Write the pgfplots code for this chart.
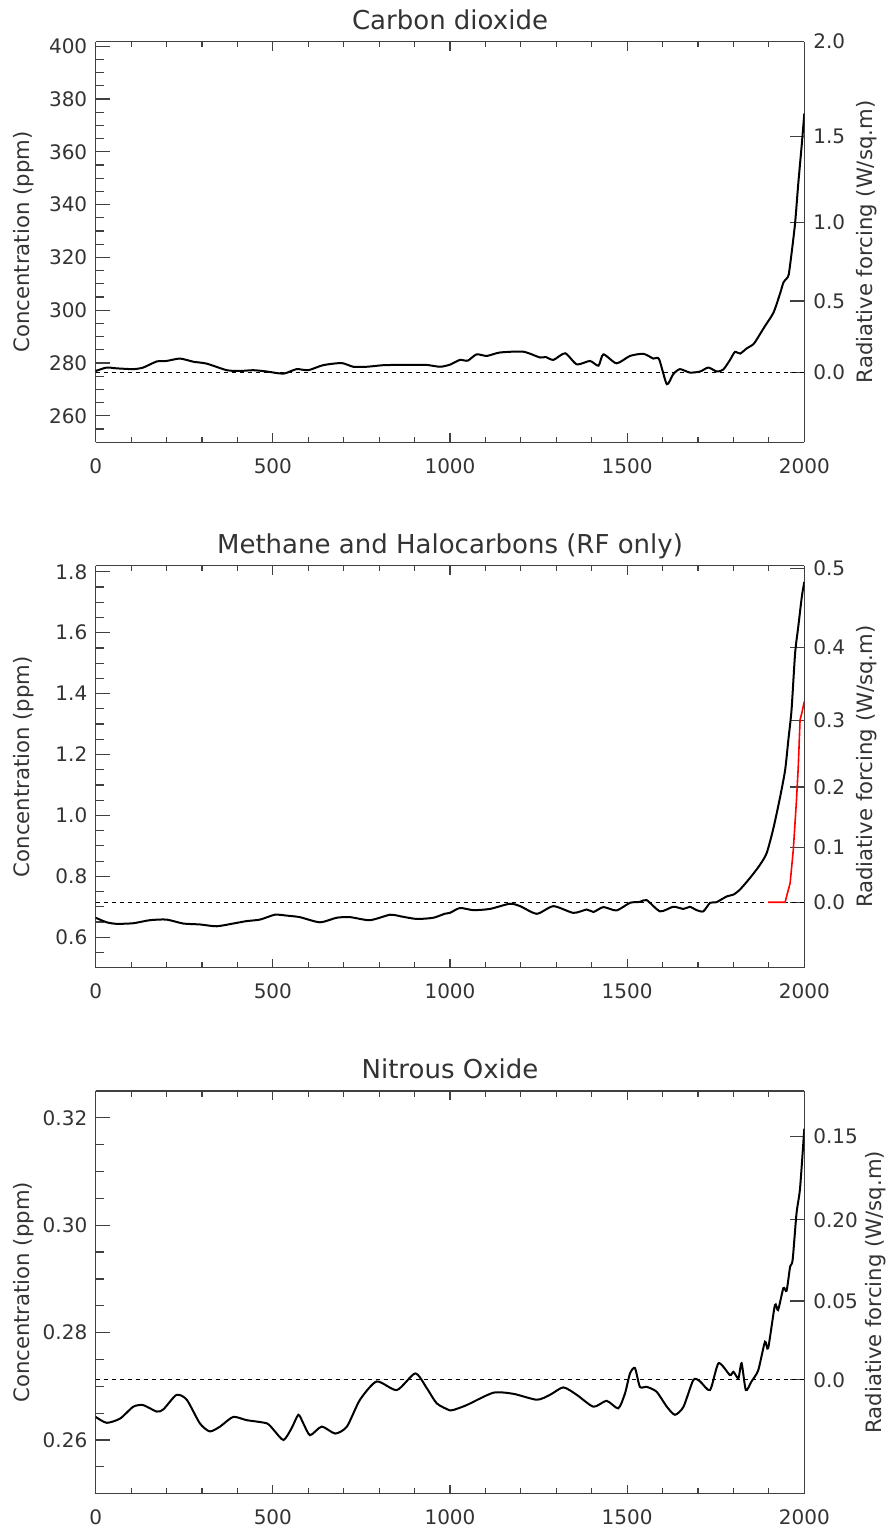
\documentclass[border=0pt]{standalone}
\usepackage{fontspec}
\setmainfont{DejaVu Sans}
\usepackage{pgfplots}
\pgfplotsset{compat=1.18}

% common look: 1 px of the reference = 0.5pt
\pgfplotsset{
  panel/.style={scale only axis, width=354.3pt, xmin=0, xmax=2000,
    axis line style={black!75, line width=0.6pt},
    tick style={black!75, line width=0.6pt},
    tick align=inside,
    tick label style={font=\fontsize{10}{12}\selectfont, text=black!80},
  },
  xpart/.style={panel, axis y line=none, axis x line*=box,
    xtick={0,500,1000,1500,2000}, xticklabels={0,500,1000,1500,2000},
    minor xtick={100,200,300,400,600,700,800,900,1100,1200,1300,1400,1600,1700,1800,1900},
    major tick length=4.5pt, minor tick length=2.8pt,
    xticklabel style={yshift=-4.5pt},
    every axis title/.style={at={(0.5,1)}, anchor=base, yshift=6.2pt,
      font=\fontsize{13}{15}\selectfont, text=black!80},
  },
  leftpart/.style={panel, axis x line=none, axis y line*=left,
    major tick length=7pt, minor tick length=3.9pt,
    yticklabel style={xshift=-0.7pt},
    ylabel={Concentration (ppm)},
    ylabel style={at={(axis description cs:-0.101,0.5)}, anchor=center,
      font=\fontsize{10.6}{12}\selectfont, text=black!80},
  },
  rightpart/.style={panel, axis x line=none, axis y line*=right,
    major tick length=7pt,
    yticklabel style={xshift=1pt},
    ylabel={Radiative forcing (W/sq.m)},
    ylabel style={at={(axis description cs:#1,0.5)}, anchor=center,
      font=\fontsize{10.6}{12}\selectfont, text=black!80},
  },
  curve/.style={black, line width=1pt, smooth, tension=0.4},
  zero/.style={black, line width=0.5pt, dash pattern=on 2pt off 2pt},
}

\begin{document}
\begin{tikzpicture}
\useasboundingbox (0,0) rectangle (444.5pt,765.5pt);

% ---------------- Carbon dioxide ----------------
\begin{axis}[xpart, at={(47.85pt,544.35pt)}, anchor=south west, height=200.3pt,
  ymin=250, ymax=401.7, title={Carbon dioxide}]
\end{axis}
\begin{axis}[rightpart=1.0885, at={(47.85pt,544.35pt)}, anchor=south west, height=200.3pt,
  ymin=250, ymax=401.7,
  ytick={276.4,303.48,333.21,365.85,401.69}, yticklabels={0.0,0.5,1.0,1.5,2.0}]
\end{axis}
\begin{axis}[leftpart, at={(47.85pt,544.35pt)}, anchor=south west, height=200.3pt,
  ymin=250, ymax=401.7,
  ytick={260,280,300,320,340,360,380,400}, yticklabels={260,280,300,320,340,360,380,400},
  minor ytick={255,265,270,275,285,290,295,305,310,315,325,330,335,345,350,355,365,370,375,385,390,395}]
  \addplot[zero] coordinates {(0,276.4) (2000,276.4)};
  \addplot[curve] coordinates {
    (0,277.0) (31,278.3) (59,278.0) (106,277.7) (134,278.3) (172,280.6) (200,280.8)
    (238,281.7) (276,280.5) (313,279.8) (370,277.3) (407,277.0) (445,277.3) (483,276.8)
    (530,276.0) (567,277.7) (600,277.3) (642,279.2) (694,280.0) (727,278.6) (765,278.6)
    (812,279.2) (859,279.3) (896,279.3) (934,279.3) (972,278.6) (1000,279.4) (1028,281.2)
    (1050,280.9) (1075,283.3) (1104,282.7) (1141,284.0) (1207,284.3) (1254,282.1)
    (1270,282.3) (1292,281.2) (1325,283.7) (1358,279.5) (1395,280.8) (1419,279.0)
    (1433,283.3) (1470,279.9) (1508,282.7) (1546,283.5) (1574,281.7) (1590,281.5)
    (1612,272.0) (1630,275.8) (1649,277.7) (1677,276.4) (1706,276.8) (1729,278.3)
    (1753,276.8) (1771,277.5) (1790,281.1) (1804,284.2) (1819,283.6) (1837,285.5)
    (1856,287.1) (1866,289.0) (1889,294.0) (1913,299.1) (1932,306.5) (1941,310.5)
    (1950,312.0) (1956,313.5) (1964,321.5) (1974,333.0) (1983,348.0) (1993,363.0)
    (2000,374.5)
  };
\end{axis}

% ---------------- Methane ----------------
\begin{axis}[xpart, at={(47.85pt,281.65pt)}, anchor=south west, height=201pt,
  ymin=0.5, ymax=1.82, title={Methane and Halocarbons (RF only)}]
\end{axis}
\begin{axis}[rightpart=1.0885, at={(47.85pt,281.65pt)}, anchor=south west, height=201pt,
  ymin=0.5, ymax=1.82,
  ytick={0.715,0.8943,1.0935,1.3129,1.5522,1.8116}, yticklabels={0.0,0.1,0.2,0.3,0.4,0.5}]
\end{axis}
\begin{axis}[leftpart, at={(47.85pt,281.65pt)}, anchor=south west, height=201pt,
  ymin=0.5, ymax=1.82,
  ytick={0.6,0.8,1.0,1.2,1.4,1.6,1.8}, yticklabels={0.6,0.8,1.0,1.2,1.4,1.6,1.8},
  minor ytick={0.55,0.65,0.7,0.75,0.85,0.9,0.95,1.05,1.1,1.15,1.25,1.3,1.35,1.45,1.5,1.55,1.65,1.7,1.75}]
  \addplot[zero] coordinates {(0,0.715) (2000,0.715)};
  \addplot[curve] coordinates {
    (0,0.664) (31,0.649) (59,0.644) (106,0.646) (153,0.656) (200,0.658) (247,0.645)
    (294,0.642) (341,0.636) (388,0.645) (426,0.653) (464,0.658) (506,0.674) (539,0.671)
    (576,0.666) (633,0.649) (680,0.664) (718,0.666) (774,0.656) (831,0.674) (859,0.669)
    (906,0.660) (953,0.664) (985,0.677) (1000,0.680) (1028,0.696) (1066,0.689)
    (1113,0.693) (1169,0.710) (1198,0.702) (1245,0.677) (1292,0.702) (1348,0.680)
    (1386,0.691) (1405,0.683) (1433,0.699) (1470,0.688) (1508,0.713) (1536,0.716)
    (1555,0.722) (1593,0.685) (1630,0.700) (1659,0.693) (1677,0.700) (1696,0.689)
    (1715,0.685) (1734,0.713) (1752,0.715) (1781,0.734) (1800,0.740) (1818,0.756)
    (1847,0.795) (1875,0.838) (1894,0.877) (1913,0.959) (1932,1.062) (1946,1.150)
    (1955,1.248) (1964,1.347) (1974,1.532) (1983,1.620) (1993,1.718) (2000,1.767)
  };
  \addplot[red, line width=0.8pt] coordinates {
    (1898,0.715) (1946,0.715) (1950,0.734) (1960,0.778) (1969,0.888) (1978,1.052)
    (1983,1.161) (1988,1.314) (1993,1.336) (2000,1.374)
  };
\end{axis}

% ---------------- Nitrous oxide ----------------
\begin{axis}[xpart, at={(47.85pt,18.65pt)}, anchor=south west, height=201.35pt,
  ymin=0.25, ymax=0.325, title={Nitrous Oxide}]
\end{axis}
\begin{axis}[rightpart=1.1012, at={(47.85pt,18.65pt)}, anchor=south west, height=201.35pt,
  ymin=0.25, ymax=0.325,
  ytick={0.2712,0.2859,0.3010,0.3165}, yticklabels={0.0,0.05,0.20,0.15}]
\end{axis}
\begin{axis}[leftpart, at={(47.85pt,18.65pt)}, anchor=south west, height=201.35pt,
  ymin=0.25, ymax=0.325,
  ytick={0.26,0.28,0.30,0.32}, yticklabels={0.26,0.28,0.30,0.32},
  minor ytick={0.255,0.265,0.27,0.275,0.285,0.29,0.295,0.305,0.31,0.315}]
  \addplot[zero] coordinates {(0,0.2712) (2000,0.2712)};
  \addplot[curve] coordinates {
    (0,0.2643) (31,0.2632) (69,0.2640) (106,0.2662) (134,0.2665) (172,0.2653)
    (191,0.2657) (228,0.2684) (257,0.2675) (294,0.2631) (322,0.2616) (351,0.2625)
    (388,0.2643) (426,0.2637) (483,0.2631) (502,0.2619) (530,0.2600) (553,0.2622)
    (572,0.2647) (586,0.2631) (605,0.2609) (638,0.2625) (676,0.2612) (709,0.2625)
    (746,0.2675) (793,0.2709) (850,0.2693) (902,0.2724) (935,0.2696) (963,0.2668)
    (1000,0.2655) (1010,0.2656) (1047,0.2665) (1122,0.2688) (1179,0.2686)
    (1245,0.2675) (1282,0.2684) (1320,0.2698) (1358,0.2684) (1405,0.2662)
    (1442,0.2673) (1475,0.2659) (1494,0.2687) (1508,0.2724) (1522,0.2734)
    (1536,0.2699) (1555,0.2699) (1583,0.2690) (1612,0.2662) (1635,0.2647)
    (1659,0.2662) (1687,0.2712) (1706,0.2709) (1734,0.2693) (1758,0.2743)
    (1790,0.2721) (1800,0.2727) (1814,0.2715) (1823,0.2743) (1835,0.2693)
    (1851,0.2709) (1870,0.2730) (1889,0.2783) (1898,0.2771) (1917,0.2851)
    (1926,0.2842) (1941,0.2883) (1950,0.2878) (1960,0.2923) (1967,0.2935)
    (1978,0.3022) (1988,0.3069) (2000,0.3180)
  };
\end{axis}
\end{tikzpicture}
\end{document}
